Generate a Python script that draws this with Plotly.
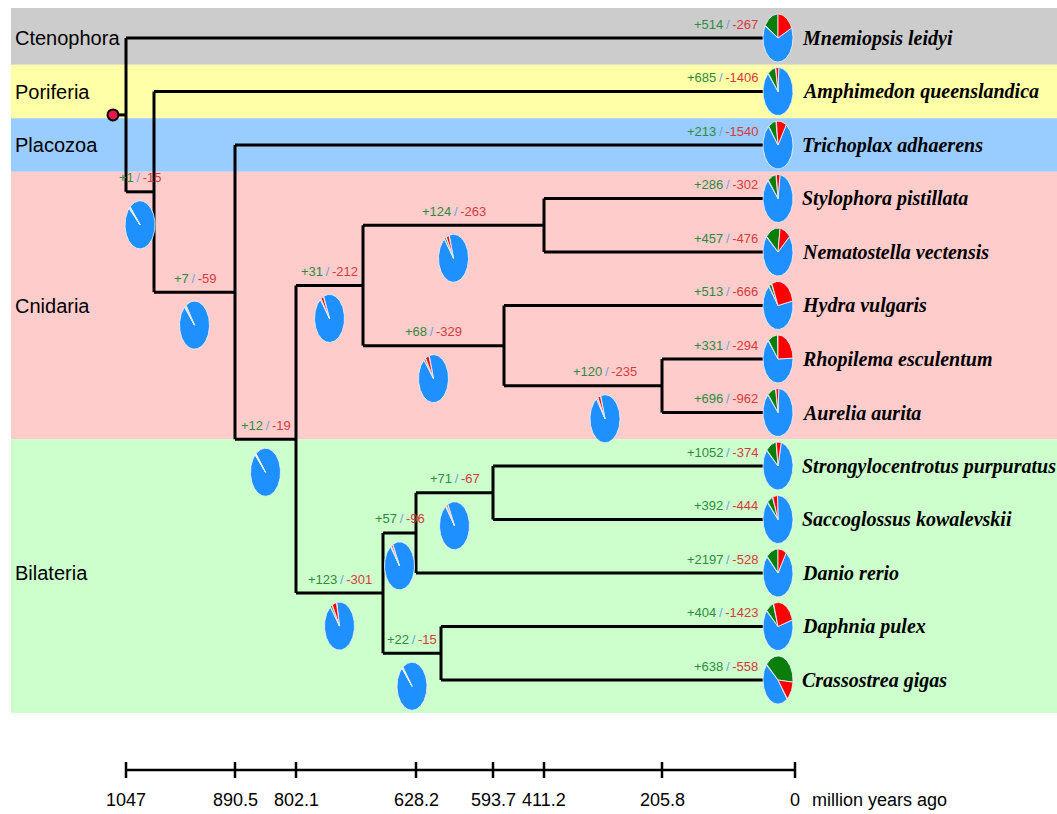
import numpy as np
import plotly.graph_objects as go

# ---------------- data ----------------
species = ["Mnemiopsis leidyi", "Amphimedon queenslandica", "Trichoplax adhaerens",
           "Stylophora pistillata", "Nematostella vectensis", "Hydra vulgaris",
           "Rhopilema esculentum", "Aurelia aurita", "Strongylocentrotus purpuratus",
           "Saccoglossus kowalevskii", "Danio rerio", "Daphnia pulex", "Crassostrea gigas"]
leaf_gain = [514, 685, 213, 286, 457, 513, 331, 696, 1052, 392, 2197, 404, 638]
leaf_loss = [267, 1406, 1540, 302, 476, 666, 294, 962, 374, 444, 528, 1423, 558]
# pie shares (percent of circle) for leaves
leaf_pie_gain = [16.7, 8.9, 8.9, 9.4, 16.4, 3.3, 10.8, 9.2, 11.7, 6.4, 13.3, 8.6, 40.6]
leaf_pie_loss = [18.1, 3.6, 11.4, 4.4, 11.7, 29.2, 25.0, 3.6, 5.6, 5.6, 9.2, 25.8, 12.8]

groups = ["Ctenophora", "Poriferia", "Placozoa", "Cnidaria", "Bilateria"]
group_first_leaf = [0, 1, 2, 3, 8]
group_last_leaf = [0, 1, 2, 7, 12]

# internal nodes: children (leaf index or node name)
tree = {
    "root": (0, "B"),
    "B": (1, "C"),
    "C": (2, "D"),
    "D": ("E", "I"),
    "E": ("F", "G"),
    "F": (3, 4),
    "G": (5, "H"),
    "H": (6, 7),
    "I": ("J", "L"),
    "J": ("K", 10),
    "K": (8, 9),
    "L": (11, 12),
}
internal_nodes = ["B", "C", "D", "E", "F", "G", "H", "I", "J", "K", "L"]
node_gain = [1, 7, 12, 31, 124, 68, 120, 123, 57, 71, 22]
node_loss = [15, 59, 19, 212, 263, 329, 235, 301, 96, 67, 15]
node_pie_gain = [0.6, 0.6, 0.3, 0.6, 2.2, 1.9, 1.4, 2.2, 0.6, 0.8, 0.3]
node_pie_loss = [0.6, 1.1, 0.6, 3.1, 3.3, 4.2, 3.3, 5.0, 1.9, 1.7, 0.6]

tick_labels = ["1047", "890.5", "802.1", "628.2", "593.7", "411.2", "205.8", "0"]
axis_title = "million years ago"

# ---------------- layout / style ----------------
W, H = 1057, 814
LEAF_Y0, LEAF_DY = 38, 53.5
LEAF_X = 778
node_x = {"root": 126, "B": 154, "C": 235, "D": 296, "E": 363, "F": 544,
          "G": 504, "H": 662, "I": 383, "J": 416, "K": 493, "L": 441}
tick_x = [126, 235, 296, 416, 493, 544, 662, 795]
label_x_override = {"H": 605}
leaf_pie_start = [-60, -42, -40, -42, -51, -38, -41, -43, -50, -45, -48, -50, -51]
node_pie_start = [-47, -42, -44, -38, -38, -40, -35, -38, -37, -37, -42]
band_colors = ["#CCCCCC", "#FFFFA8", "#99CCFF", "#FFCCCC", "#CCFFCC"]
C_GREEN, C_RED, C_SLASH = "#2E8B3E", "#D63A3A", "#6FA3DA"
P_BLUE, P_GREEN, P_RED = "#1E90FF", "#0A7D0A", "#FF0000"
RX, RY = 15, 24

fig = go.Figure()

leaf_y = [LEAF_Y0 + i * LEAF_DY for i in range(len(species))]

# bands
shapes = []
n_leaf = len(species)
for gi, g in enumerate(groups):
    a, b = group_first_leaf[gi], group_last_leaf[gi]
    y0 = leaf_y[a] - 30 if a == 0 else (leaf_y[a - 1] + leaf_y[a]) / 2
    y1 = leaf_y[b] + 33 if b == n_leaf - 1 else (leaf_y[b] + leaf_y[b + 1]) / 2
    shapes.append(dict(type="rect", xref="x", yref="y", x0=11, x1=W, y0=y0, y1=y1,
                       fillcolor=band_colors[gi], line=dict(width=0), layer="below"))

# node y positions
pos_y = {}
def get_y(n):
    if isinstance(n, int):
        return leaf_y[n]
    if n in pos_y:
        return pos_y[n]
    c1, c2 = tree[n]
    pos_y[n] = (get_y(c1) + get_y(c2)) / 2
    return pos_y[n]
get_y("root")

def get_x(n):
    return LEAF_X if isinstance(n, int) else node_x[n]

parent = {}
for n, (c1, c2) in tree.items():
    parent[c1] = n
    parent[c2] = n

# tree lines
lx, ly = [], []
for n, (c1, c2) in tree.items():
    x = node_x[n]
    lx += [x, x, None]; ly += [get_y(c1), get_y(c2), None]
    for c in (c1, c2):
        lx += [x, get_x(c) - (8 if isinstance(c, int) else 0), None]
        ly += [get_y(c), get_y(c), None]
# root stem
lx += [113, node_x["root"], None]; ly += [pos_y["root"], pos_y["root"], None]
fig.add_trace(go.Scatter(x=lx, y=ly, mode="lines", line=dict(color="black", width=3),
                         hoverinfo="skip", showlegend=False))
fig.add_trace(go.Scatter(x=[113], y=[pos_y["root"]], mode="markers",
                         marker=dict(size=11, color="#E8194A", line=dict(color="black", width=2)),
                         hoverinfo="skip", showlegend=False))

def wedge(cx, cy, a0, a1, color):
    n = max(3, int(abs(a1 - a0) / 2) + 2)
    th = np.radians(np.linspace(a0, a1, n))
    xs = [cx] + list(cx + RX * np.sin(th)) + [cx]
    ys = [cy] + list(cy - RY * np.cos(th)) + [cy]
    fig.add_trace(go.Scatter(x=xs, y=ys, mode="lines", fill="toself", fillcolor=color,
                             line=dict(color="rgba(235,240,250,0.85)", width=1),
                             hoverinfo="skip", showlegend=False))

def pie(cx, cy, g_pct, r_pct, start):
    g = g_pct * 3.6
    r = r_pct * 3.6
    wedge(cx, cy, start + g + r, start + 360, P_BLUE)
    wedge(cx, cy, start, start + g, P_GREEN)
    wedge(cx, cy, start + g, start + g + r, P_RED)

def gl_text(g, l):
    return (f"<span style='color:{C_GREEN}'>+{g}</span>"
            f"<span style='color:{C_SLASH}'>\u2009/\u2009</span>"
            f"<span style='color:{C_RED}'>-{l}</span>")

annotations = []
LBL_FONT = dict(family="Liberation Sans Narrow, Arial Narrow, Liberation Sans, Arial", size=13)

# leaf pies and labels
for i, sp in enumerate(species):
    y = leaf_y[i]
    pie(LEAF_X, y, leaf_pie_gain[i], leaf_pie_loss[i], leaf_pie_start[i])
    annotations.append(dict(x=760, y=y - 14, text=gl_text(leaf_gain[i], leaf_loss[i]),
                            xanchor="right", yanchor="middle", showarrow=False, font=LBL_FONT))
    annotations.append(dict(x=800, y=y, text=sp, xanchor="left", yanchor="middle", showarrow=False,
                            font=dict(family="Liberation Serif, Times New Roman, serif", size=20,
                                      color="black", weight="bold", style="italic")))

# internal pies and labels
for k, n in enumerate(internal_nodes):
    y = pos_y[n]
    xm = label_x_override.get(n, (node_x[parent[n]] + node_x[n]) / 2)
    pie(xm, y + 33, node_pie_gain[k], node_pie_loss[k], node_pie_start[k])
    annotations.append(dict(x=xm, y=y - 14, text=gl_text(node_gain[k], node_loss[k]),
                            xanchor="center", yanchor="middle", showarrow=False, font=LBL_FONT))

# group labels
for gi, g in enumerate(groups):
    a, b = group_first_leaf[gi], group_last_leaf[gi]
    yc = leaf_y[(a + b) // 2]
    annotations.append(dict(x=13, y=yc, text=g, xanchor="left", yanchor="middle", showarrow=False,
                            font=dict(family="Liberation Sans, Arial", size=20, color="black")))

# time axis
AXY = 770
ax_x = [tick_x[0], tick_x[-1], None]
ax_y = [AXY, AXY, None]
for tx in tick_x:
    ax_x += [tx, tx, None]; ax_y += [AXY - 8, AXY + 8, None]
fig.add_trace(go.Scatter(x=ax_x, y=ax_y, mode="lines", line=dict(color="black", width=2.5),
                         hoverinfo="skip", showlegend=False))
AX_FONT = dict(family="Liberation Sans Narrow, Arial Narrow, Liberation Sans, Arial", size=18, color="black")
for tx, tl in zip(tick_x, tick_labels):
    annotations.append(dict(x=tx, y=800, text=tl, xanchor="center", yanchor="middle",
                            showarrow=False, font=AX_FONT))
annotations.append(dict(x=810, y=800, text=axis_title, xanchor="left", yanchor="middle",
                        showarrow=False, font=AX_FONT))

fig.update_layout(
    width=W, height=H, autosize=False,
    margin=dict(l=0, r=0, t=0, b=0),
    paper_bgcolor="white", plot_bgcolor="white",
    xaxis=dict(range=[0, W], visible=False, fixedrange=True),
    yaxis=dict(range=[H, 0], visible=False, fixedrange=True),
    shapes=shapes, annotations=annotations, showlegend=False,
)
fig.write_html("out.html", config={"displayModeBar": False},
               post_script="document.body.style.margin='0';document.body.style.overflow='hidden';")
